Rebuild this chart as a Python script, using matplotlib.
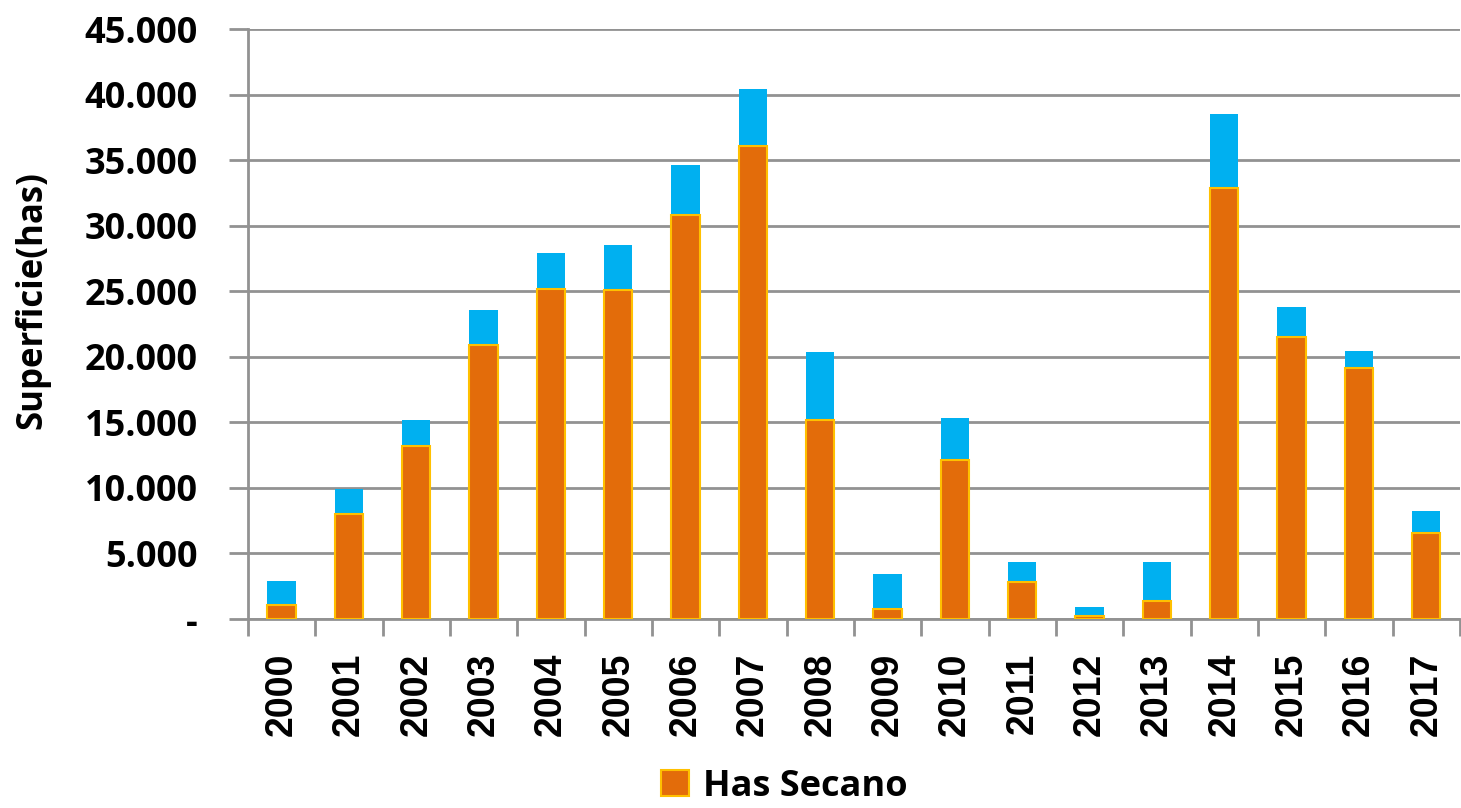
import matplotlib.pyplot as plt
import matplotlib.ticker as mticker
import numpy as np

years = ['2000', '2001', '2002', '2003', '2004', '2005', '2006', '2007', '2008',
         '2009', '2010', '2011', '2012', '2013', '2014', '2015', '2016', '2017']
# hectares of dry land (orange) and the total (top of blue part)
secano = [1100, 8000, 13200, 20900, 25200, 25100, 30800, 36100, 15200,
          760, 12100, 2800, 230, 1370, 32900, 21500, 19150, 6560]
total = [2900, 9900, 15200, 23600, 27900, 28500, 34600, 40400, 20400,
         3400, 15300, 4350, 900, 4350, 38500, 23800, 20450, 8240]

orange = '#E36C0A'
edge = '#FFC000'
blue = '#00B0F0'
grid_col = '#929292'

fig = plt.figure(figsize=(14.61, 8.08), dpi=100)
ax = fig.add_axes([0.1697, 0.2339, 0.8296, 0.7302])

x = np.arange(len(years))
resto = np.array(total) - np.array(secano)
ax.bar(x, secano, width=0.42, color=orange, edgecolor=edge, linewidth=1.5,
       label='Has Secano', zorder=3)
ax.bar(x, resto, bottom=secano, width=0.42, color=blue, linewidth=0, zorder=2)

ax.set_xlim(-0.5, len(years) - 0.5)
ax.set_ylim(0, 45000)
ax.set_yticks(np.arange(0, 45001, 5000))


def fmt(v, pos):
    if v == 0:
        return '-'
    return f'{int(v):,}'.replace(',', '.')


ax.yaxis.set_major_formatter(mticker.FuncFormatter(fmt))
ax.grid(axis='y', color=grid_col, linewidth=2, zorder=0)

# category boundaries for the tick marks
ax.set_xticks(np.arange(-0.5, len(years), 1.0))
ax.set_xticklabels([])
ax.set_xticks(x, minor=True)
ax.set_xticklabels(years, minor=True, rotation=90)
for lab in ax.get_xticklabels(minor=True):
    lab.set_fontsize(27)
    lab.set_fontweight('bold')
    lab.set_family('Liberation Sans')
ax.tick_params(axis='x', which='major', length=12, width=2, color=grid_col,
               direction='out')
ax.tick_params(axis='x', which='minor', length=0, pad=24)
ax.tick_params(axis='y', length=14, width=2, color=grid_col, pad=22)
for lab in ax.get_yticklabels():
    lab.set_fontsize(26)
    lab.set_fontweight('bold')
    lab.set_family('Open Sans')

for s in ['top', 'right']:
    ax.spines[s].set_visible(False)
ax.spines['left'].set_color(grid_col)
ax.spines['left'].set_linewidth(2)
ax.spines['bottom'].set_color(grid_col)
ax.spines['bottom'].set_linewidth(2)

ax.set_ylabel('Superficie(has)', fontsize=25, fontweight='bold',
              family='Open Sans')
ax.yaxis.set_label_coords(-0.163, 0.54)

leg = fig.legend(loc='lower center', bbox_to_anchor=(0.537, -0.036), frameon=False,
                 prop={'family': 'Open Sans', 'weight': 'bold', 'size': 26},
                 handlelength=0.75, handleheight=0.75, handletextpad=0.4)

fig.savefig('out.png', dpi=100)
